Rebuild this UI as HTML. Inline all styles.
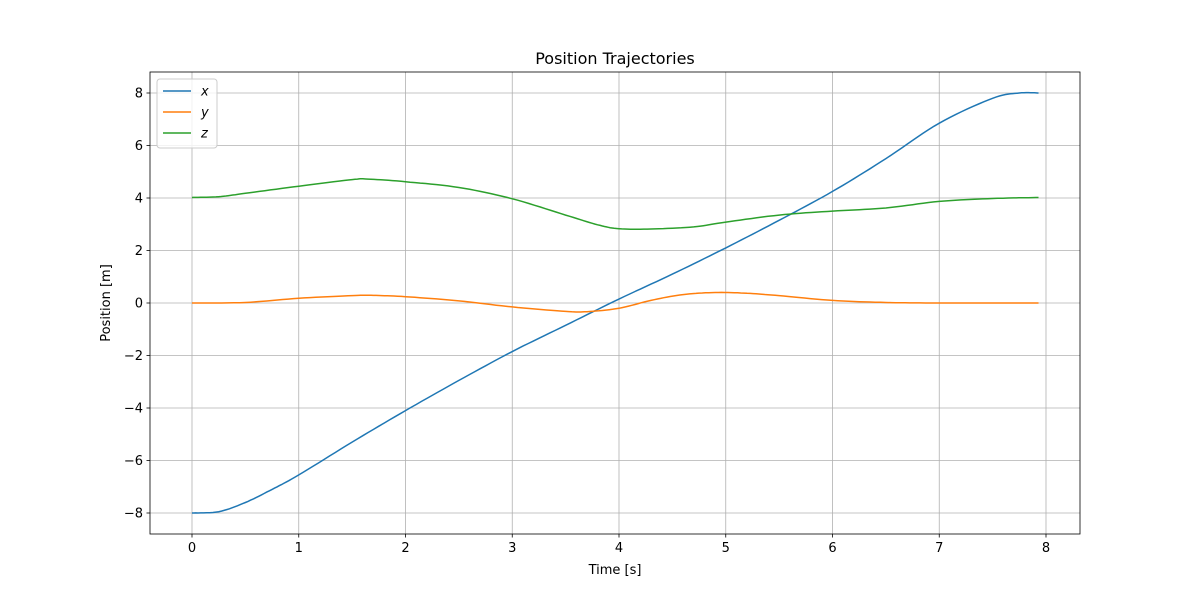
<!DOCTYPE html>
<html><head><meta charset="utf-8"><style>
body{margin:0;background:#fff;font-family:"Liberation Sans","DejaVu Sans",sans-serif}
svg text{font-family:"DejaVu Sans","Liberation Sans",sans-serif}
</style></head><body>
<svg id="c" width="1200" height="600" xmlns="http://www.w3.org/2000/svg"></svg>
<script>
const tTicks=[0,1,2,3,4,5,6,7,8];
const yTicks=[-8,-6,-4,-2,0,2,4,6,8];
const xT=[0,0.25,0.5,0.75,1,1.5,2,2.5,3,3.5,4,4.5,5,5.5,6,6.5,7,7.5,7.75,7.93];
const xV=[-8,-7.95,-7.6,-7.1,-6.55,-5.3,-4.1,-2.95,-1.85,-0.85,0.15,1.1,2.1,3.15,4.25,5.5,6.85,7.8,8.0,8.0];
const yT=[0,0.5,1,1.5,1.7,2,2.5,3,3.5,3.7,4,4.3,4.6,4.9,5.2,5.5,6,6.5,7,7.93];
const yV=[0,0.02,0.18,0.28,0.29,0.24,0.08,-0.15,-0.32,-0.33,-0.2,0.1,0.32,0.4,0.37,0.28,0.1,0.02,0,0];
const zT=[0,0.25,0.5,1,1.5,1.65,2,2.5,3,3.5,3.8,4,4.3,4.7,5,5.5,6,6.5,7,7.5,7.93];
const zV=[4.02,4.05,4.18,4.45,4.7,4.72,4.62,4.4,3.97,3.35,2.98,2.83,2.82,2.9,3.08,3.35,3.5,3.62,3.87,3.98,4.02];
const L=150,R=1080,T=72,B=534;
const sx=t=>192+t*106.75, sy=v=>303-v*26.25;
const svg=document.getElementById('c');const NS='http://www.w3.org/2000/svg';
function el(tag,a,txt){const e=document.createElementNS(NS,tag);for(const k in a)e.setAttribute(k,a[k]);if(txt!==undefined)e.textContent=txt;svg.appendChild(e);return e;}
tTicks.forEach(t=>{const g=el('line',{x1:sx(t),x2:sx(t),y1:T,y2:B,stroke:'#b0b0b0','stroke-width':0.8});

el('line',{x1:sx(t),x2:sx(t),y1:B,y2:B+3.5,stroke:'#000','stroke-width':0.8});
const l=el('text',{x:sx(t),y:B+18,'text-anchor':'middle','font-size':13},t);
});
yTicks.forEach(v=>{const g=el('line',{x1:L,x2:R,y1:sy(v),y2:sy(v),stroke:'#b0b0b0','stroke-width':0.8});

el('line',{x1:L-3.5,x2:L,y1:sy(v),y2:sy(v),stroke:'#000','stroke-width':0.8});
const l=el('text',{x:L-7,y:sy(v)+4.5,'text-anchor':'end','font-size':13},(v<0?'\u2212':'')+Math.abs(v));
});
function curve(T_,V,col,name){const pts=[];
for(let i=0;i<T_.length-1;i++){const p0=i?i-1:0,p3=Math.min(i+2,T_.length-1);
for(let s=0;s<10;s++){const u=s/10;const cr=(a,b,c,d)=>0.5*(2*b+(-a+c)*u+(2*a-5*b+4*c-d)*u*u+(-a+3*b-3*c+d)*u*u*u);
pts.push(sx(cr(T_[p0],T_[i],T_[i+1],T_[p3])).toFixed(1)+','+sy(cr(V[p0],V[i],V[i+1],V[p3])).toFixed(1));}}
pts.push(sx(T_[T_.length-1])+','+sy(V[V.length-1]));
const p=el('polyline',{points:pts.join(' '),fill:'none',stroke:col,'stroke-width':1.5});
}
curve(xT,xV,'#1f77b4','x-series-line');curve(yT,yV,'#ff7f0e','y-series-line');curve(zT,zV,'#2ca02c','z-series-line');
const f=el('rect',{x:L,y:T,width:R-L,height:B-T,fill:'none',stroke:'#000','stroke-width':0.8});

let e=el('text',{x:615,y:64,'text-anchor':'middle','font-size':16},'Position Trajectories');

e=el('text',{x:615,y:574,'text-anchor':'middle','font-size':13},'Time [s]');

e=el('text',{x:110,y:303,'text-anchor':'middle','font-size':13,transform:'rotate(-90 110 303)'},'Position [m]');

e=el('rect',{x:157,y:79,width:60,height:69,rx:3,fill:'#fff','fill-opacity':0.8,stroke:'#ccc'});

[['x','#1f77b4'],['y','#ff7f0e'],['z','#2ca02c']].forEach((d,i)=>{const y=91+i*21;
el('line',{x1:163,x2:191,y1:y,y2:y,stroke:d[1],'stroke-width':1.5});
const t=el('text',{x:201,y:y+4.5,'font-size':13,'font-style':'italic'},d[0]);
});
</script>
</body></html>
